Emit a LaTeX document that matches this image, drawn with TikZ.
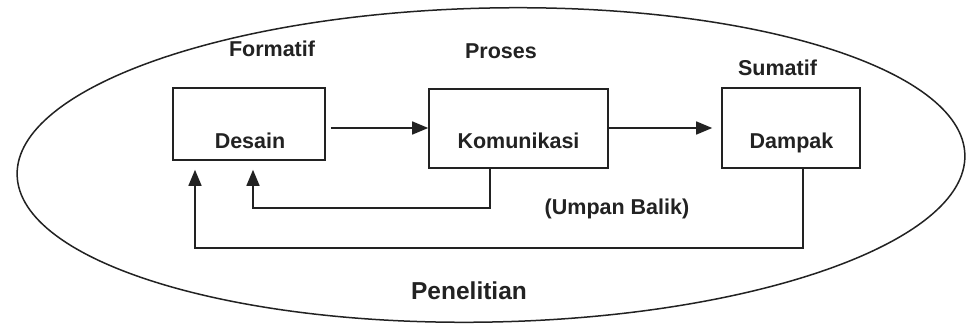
\documentclass[tikz,border=0pt]{standalone}
\usepackage{fontspec}
\setmainfont{Liberation Sans}
\usetikzlibrary{arrows.meta}
\definecolor{ink}{HTML}{222222}
\tikzset{
  boxnode/.style={draw=ink, line width=1.6pt, minimum width=#1, inner sep=0pt},
  lbl/.style={anchor=base, text=ink, font=\fontsize{21.5}{24}\selectfont\bfseries, inner sep=0pt},
  biglbl/.style={anchor=base, text=ink, font=\fontsize{24.5}{28}\selectfont\bfseries, inner sep=0pt},
  arr/.style={draw=ink, line width=1.5pt, -{Triangle[length=16pt,width=13pt]}},
  line/.style={draw=ink, line width=1.5pt}
}
\begin{document}
\begin{tikzpicture}[x=1pt,y=-1pt]
\useasboundingbox[fill=white] (0,0) rectangle (966,324);
% outer ellipse
\draw[line, rotate around={1.2:(491,165)}] (491,165) ellipse [x radius=474pt, y radius=157pt];
% boxes
\node[boxnode=152pt, minimum height=72pt] (des) at (249,124) {};
\node[boxnode=179pt, minimum height=79pt] (kom) at (518.5,128.5) {};
\node[boxnode=138pt, minimum height=80pt] (dam) at (791,128) {};
% box texts
\node[lbl] (tdes) at (250,148) {Desain};
\node[lbl] (tkom) at (518.5,148) {Komunikasi};
\node[lbl] (tdam) at (791.5,148) {Dampak};
% headings
\node[lbl] (hfor) at (272,56) {Formatif};
\node[lbl] (hpro) at (501,58) {Proses};
\node[lbl] (hsum) at (777.5,75) {Sumatif};
\node[lbl] (hub) at (617,214) {(Umpan Balik)};
\node[biglbl] (hpen) at (469,299) {Penelitian};
% forward arrows
\draw[arr, shorten <=5pt] (des.east |- 0,128) -- (kom.west |- 0,128);
\draw[arr, shorten >=9pt] (kom.east |- 0,128) -- (dam.west |- 0,128);
% feedback arrows
\draw[arr, shorten >=9pt] ([xshift=-28.5pt]kom.south) -- ++(0,39) -| ([xshift=4pt]des.south);
\draw[arr, shorten >=9pt] ([xshift=12pt]dam.south) -- ++(0,79) -| ([xshift=-54pt]des.south);
\end{tikzpicture}
\end{document}
